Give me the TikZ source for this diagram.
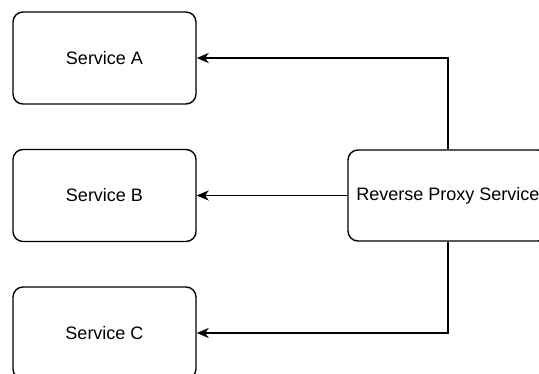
\documentclass[tikz,border=0pt]{standalone}
\usepackage{fontspec}
\setmainfont{Liberation Sans}
\usetikzlibrary{arrows.meta}

\tikzset{
  svcbox/.style={draw=black, line width=1.4pt, rounded corners=10pt, fill=white,
    minimum width=183pt, minimum height=92pt, inner sep=0pt,
    font=\fontsize{18pt}{21pt}\selectfont},
  proxybox/.style={svcbox, minimum width=200pt, minimum height=91pt},
  link/.style={draw=black, line width=1.4pt,
    -{Stealth[length=12pt, width=10pt, inset=3.5pt]}}
}

\begin{document}
\begin{tikzpicture}[x=1pt, y=-1pt]
  \useasboundingbox (0,0) rectangle (539,374);
  \clip (0,0) rectangle (539,374);

  % backend services on the left
  \node[svcbox] (a) at (104.5,58) {Service A};
  \node[svcbox] (b) at (104.5,195.5) {Service B};
  \node[svcbox] (c) at (104.5,333) {Service C};

  % proxy on the right
  \node[proxybox] (p) at (448,195.5) {Reverse Proxy Service};

  % routes from the proxy to each service
  \draw[link] (p.north) |- (a.east);
  \draw[link] (p.west) -- (b.east);
  \draw[link] (p.south) |- (c.east);
\end{tikzpicture}
\end{document}
